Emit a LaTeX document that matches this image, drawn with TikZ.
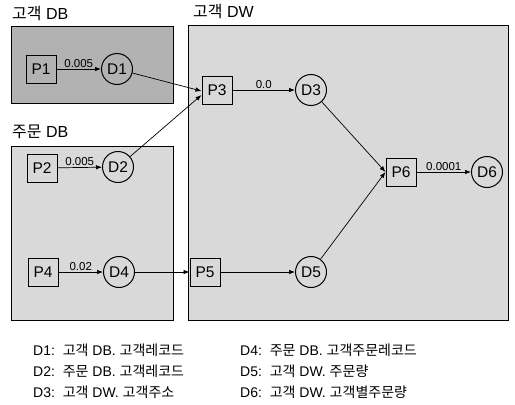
\documentclass[tikz,border=0pt]{standalone}
\usepackage{fontspec}
\setmainfont{Liberation Sans}
\newfontfamily\kr{Noto Sans CJK KR}
\usetikzlibrary{arrows.meta}
\definecolor{dbdark}{gray}{0.70}
\definecolor{dblight}{gray}{0.85}
\tikzset{
  region/.style={draw=black, line width=0.9pt},
  proc/.style={draw=black, line width=1pt, rectangle, minimum width=30pt, minimum height=28pt, inner sep=0pt, font=\fontsize{15.5}{17}\selectfont},
  store/.style={draw=black, line width=1pt, circle, minimum size=31pt, inner sep=0pt, font=\fontsize{15.5}{17}\selectfont},
  flow/.style={draw=black, line width=0.7pt, -{Latex[length=6pt,width=4.5pt]}},
  rate/.style={font=\fontsize{11.5}{13}\selectfont, inner sep=1.5pt, above, midway},
  title/.style={anchor=west, font=\fontsize{16}{18}\selectfont, inner sep=0pt},
  legend/.style={anchor=west, font=\fontsize{14}{16}\selectfont, inner sep=0pt}
}
\begin{document}
\begin{tikzpicture}[x=1pt,y=-1pt]
\useasboundingbox (0,0) rectangle (515,405);
% regions
\draw[region, fill=dbdark] (11,26) rectangle (173,103);
\draw[region, fill=dblight] (11,146) rectangle (173,320);
\draw[region, fill=dblight] (188,25) rectangle (508,320);
\node[title] (t1) at (12,14) {{\kr 고객} DB};
\node[title] (t2) at (12,132) {{\kr 주문} DB};
\node[title] (t3) at (193,12) {{\kr 고객} DW};
% nodes
\node[proc] (P1) at (41,69) {P1};
\node[store] (D1) at (117,69) {D1};
\node[proc] (P2) at (42,168) {P2};
\node[store] (D2) at (118,167) {D2};
\node[proc] (P4) at (43,272) {P4};
\node[store] (D4) at (119,272) {D4};
\node[proc] (P3) at (217,90) {P3};
\node[store] (D3) at (311,90) {D3};
\node[proc] (P5) at (205,272) {P5};
\node[store] (D5) at (311,272) {D5};
\node[proc] (P6) at (401,172) {P6};
\node[store] (D6) at (487,172) {D6};
% flows
\draw[flow] (P1) -- node[rate] {0.005} (D1);
\draw[flow] (P2) -- node[rate] {0.005} (D2);
\draw[flow] (P4) -- node[rate] {0.02} (D4);
\draw[flow] (P3) -- node[rate] {0.0} (D3);
\draw[flow] (P6) -- node[rate] {0.0001} (D6);
\draw[flow] (D1) -- ([yshift=-1pt]P3.west);
\draw[flow] (D2) -- ([yshift=-5pt]P3.west);
\draw[flow] (D4) -- (P5);
\draw[flow] (P5) -- (D5);
\draw[flow] (D3) -- (P6.west);
\draw[flow] (D5) -- (P6.west);
% legend
\node[legend] (L1) at (33,350) {D1:\ \ {\kr 고객} DB. {\kr 고객레코드}};
\node[legend] (L2) at (33,371) {D2:\ \ {\kr 주문} DB. {\kr 고객레코드}};
\node[legend] (L3) at (33,392) {D3:\ \ {\kr 고객} DW. {\kr 고객주소}};
\node[legend] (L4) at (240,350) {D4:\ \ {\kr 주문} DB. {\kr 고객주문레코드}};
\node[legend] (L5) at (240,371) {D5:\ \ {\kr 고객} DW. {\kr 주문량}};
\node[legend] (L6) at (240,392) {D6:\ \ {\kr 고객} DW. {\kr 고객별주문량}};
\end{tikzpicture}
\end{document}
